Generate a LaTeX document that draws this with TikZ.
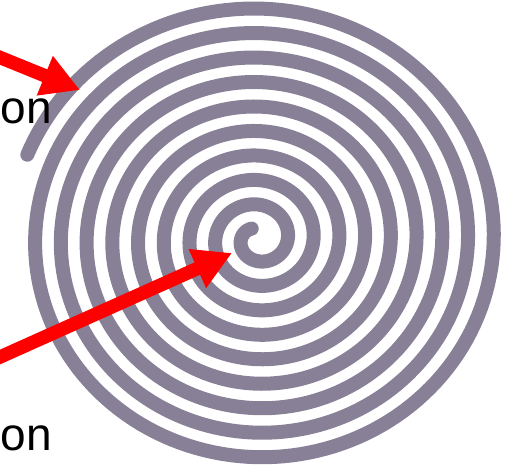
\documentclass[tikz,border=0pt]{standalone}
\usepackage{fontspec}
\setmainfont{Liberation Sans}
\usetikzlibrary{arrows.meta}
\definecolor{spiralgray}{RGB}{136,128,150}
\definecolor{arrowred}{RGB}{255,0,0}
\tikzset{
  spiralband/.style={draw=spiralgray, line width=14pt, line cap=round, line join=round},
  redarrow/.style={draw=arrowred, line width=13.5pt, -{Triangle[length=38pt,width=40pt,fill=arrowred]}},
  cutlabel/.style={inner sep=0pt, anchor=base east, font=\fontsize{46}{46}\selectfont, text=black}
}
\begin{document}
\begin{tikzpicture}[x=1pt,y=-1pt]
\useasboundingbox (0,0) rectangle (512,469);
\clip (0,0) rectangle (512,469);
\fill[white] (0,0) rectangle (512,469);
% Archimedean spiral
\draw[spiralband] plot[domain=120:3399, samples=1500, variable=\t]
  ({258+1.051*(12+0.0680556*(\t-120))*cos(\t)}, {239-(12+0.0680556*(\t-120))*sin(\t)});
% labels
\node[cutlabel] (lbltop) at (52,123) {on};
\node[cutlabel] (lblbot) at (52,450) {on};
% arrows
\coordinate (a1s) at (-10,53.4);
\coordinate (a1e) at (80,90);
\coordinate (a2s) at (-10,361.5);
\coordinate (a2e) at (232,253);
\draw[redarrow] (a1s) -- (a1e);
\draw[redarrow] (a2s) -- (a2e);
\end{tikzpicture}
\end{document}
